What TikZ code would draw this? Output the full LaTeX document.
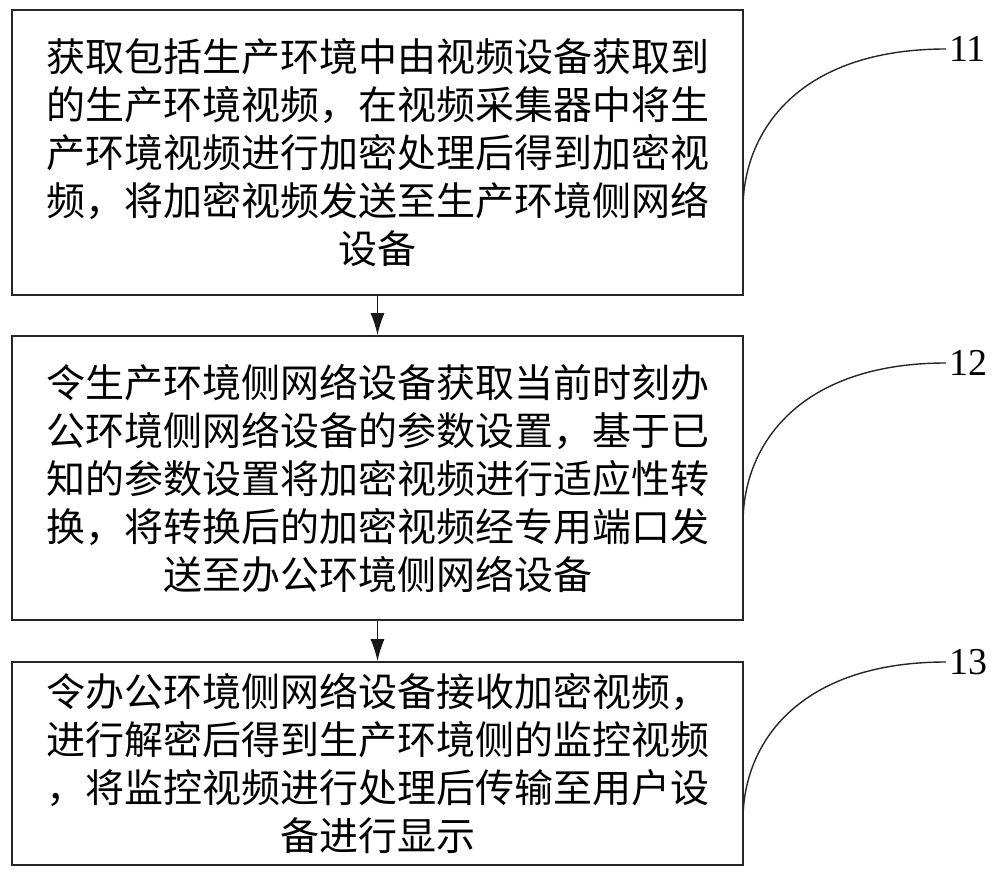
\documentclass[tikz,border=0pt]{standalone}
\usepackage{fontspec}
\newfontfamily\cjk{Noto Sans CJK SC}
\newfontfamily\numfont{Liberation Serif}
\usetikzlibrary{arrows.meta}
\begin{document}
\begin{tikzpicture}[x=1pt,y=-1pt,
  stepbox/.style={draw=black!85, line width=1.6pt, rectangle, minimum width=731pt, inner sep=0pt, align=center,
    font=\cjk\fontsize{39}{48}\selectfont},
  flow/.style={draw=black!90, line width=1.4pt, -{Latex[length=22pt,width=14pt]}},
  lead/.style={draw=black!85, line width=1.4pt},
  tag/.style={anchor=west, inner sep=3pt, font=\numfont\fontsize{38}{38}\selectfont}]
\useasboundingbox (0,0) rectangle (1000,877);
\fill[white] (0,0) rectangle (1000,877);

\node[stepbox, minimum height=285pt] (b1) at (377.5,152.5) {获取包括生产环境中由视频设备获取到\\的生产环境视频，在视频采集器中将生\\产环境视频进行加密处理后得到加密视\\频，将加密视频发送至生产环境侧网络\\设备};
\node[stepbox, minimum height=284pt] (b2) at (377.5,478) {令生产环境侧网络设备获取当前时刻办\\公环境侧网络设备的参数设置，基于已\\知的参数设置将加密视频进行适应性转\\换，将转换后的加密视频经专用端口发\\送至办公环境侧网络设备};
\node[stepbox, minimum height=203pt] (b3) at (377.5,763.5) {令办公环境侧网络设备接收加密视频，\\进行解密后得到生产环境侧的监控视频\\，将监控视频进行处理后传输至用户设\\备进行显示};

\draw[flow] (b1.south) -- (b2.north);
\draw[flow] (b2.south) -- (b3.north);

\node[tag] (t1) at (946,49) {11};
\node[tag] (t2) at (946,363) {12};
\node[tag] (t3) at (946,662) {13};

\coordinate (c1) at (743,209);
\coordinate (c2) at (743,523);
\coordinate (c3) at (743,820);

\draw[lead] (c1) .. controls (743,130) and (800,49) .. (t1.west);
\draw[lead] (c2) .. controls (743,444) and (800,363) .. (t2.west);
\draw[lead] (c3) .. controls (743,742) and (800,662) .. (t3.west);
\end{tikzpicture}
\end{document}
